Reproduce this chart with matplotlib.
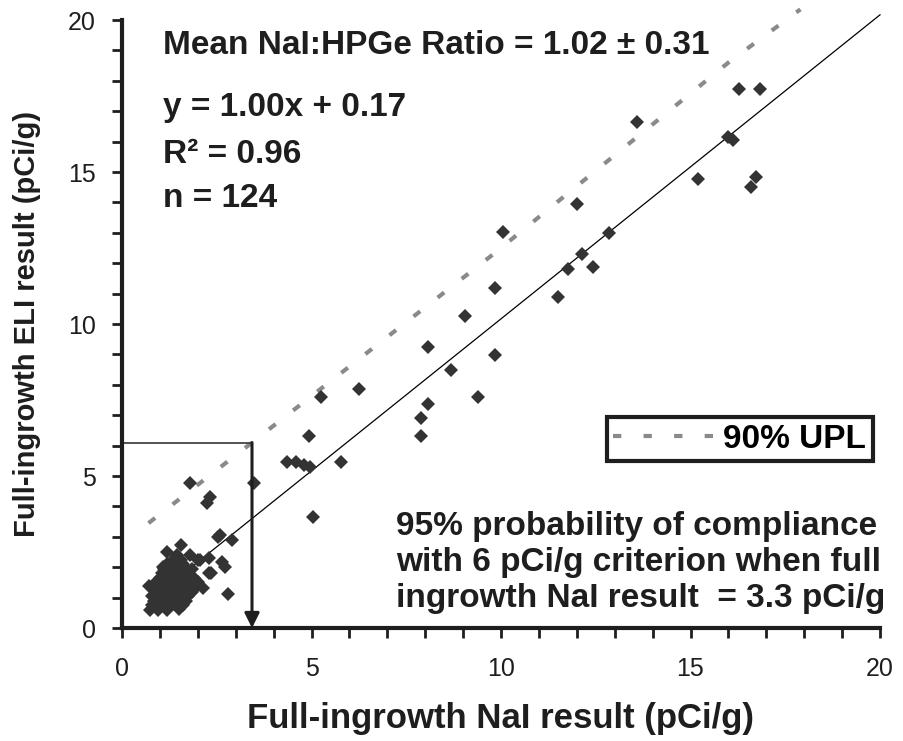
import numpy as np
import matplotlib
matplotlib.use("Agg")
import matplotlib.pyplot as plt
from matplotlib.ticker import MultipleLocator

plt.rcParams['font.family'] = ['Liberation Sans', 'DejaVu Sans']
plt.rcParams['lines.scale_dashes'] = False

# scattered results, NaI (x) vs ELI (y), pCi/g
nai_outer = [4.35, 4.6, 4.8, 4.95, 5.05, 4.94, 5.24, 5.79, 6.26, 7.9, 7.9, 8.08, 8.08,
             8.67, 9.05, 9.4, 9.84, 9.84, 10.06, 11.51, 11.78, 12.13, 12.42, 12.0, 12.85,
             13.58, 15.2, 16.0, 16.13, 16.29, 16.83, 16.6, 16.73,
             3.48, 1.79, 2.32, 2.23, 2.59, 2.54, 2.89, 2.8]
eli_outer = [5.45, 5.45, 5.35, 5.3, 3.66, 6.3, 7.61, 5.45, 7.87, 6.92, 6.3, 7.37, 9.25,
             8.49, 10.27, 7.59, 8.98, 11.2, 13.04, 10.9, 11.81, 12.29, 11.87, 13.95, 13.0,
             16.63, 14.77, 16.14, 16.05, 17.73, 17.73, 14.5, 14.85,
             4.76, 4.78, 4.32, 4.1, 3.06, 3.0, 2.89, 1.11]

# dense cluster near the origin
nai_cluster = [0.75, 0.95, 1.2, 1.5,
               0.8, 1.05, 1.3, 1.45, 1.6,
               0.85, 1.0, 1.15, 1.35, 1.55, 1.7,
               0.8, 1.0, 1.2, 1.4, 1.6, 1.75,
               0.9, 1.05, 1.25, 1.45, 1.65, 1.85,
               0.7, 0.95, 1.1, 1.3, 1.5, 1.7, 1.95, 2.15,
               0.9, 1.1, 1.25, 1.4, 1.6, 1.8, 2.0,
               1.0, 1.2, 1.35, 1.55, 1.75, 1.9,
               1.05, 1.25, 1.45, 1.65, 2.3,
               1.1, 1.3, 1.5, 1.7, 1.85, 2.72,
               1.2, 1.4, 1.6, 2.0,
               1.35, 1.55, 2.05, 2.3, 2.65,
               1.45, 1.8, 1.18, 1.55, 1.09, 1.35, 2.36]
eli_cluster = [0.6, 0.6, 0.6, 0.62,
               0.75, 0.75, 0.75, 0.75, 0.75,
               0.9, 0.9, 0.9, 0.9, 0.9, 0.9,
               1.05, 1.05, 1.05, 1.05, 1.05, 1.05,
               1.2, 1.2, 1.2, 1.2, 1.2, 1.2,
               1.38, 1.35, 1.35, 1.35, 1.35, 1.35, 1.35, 1.31,
               1.5, 1.5, 1.5, 1.5, 1.5, 1.5, 1.5,
               1.65, 1.65, 1.65, 1.65, 1.65, 1.65,
               1.8, 1.8, 1.8, 1.8, 1.8,
               1.95, 1.95, 1.95, 1.95, 1.95, 2.02,
               2.1, 2.1, 2.1, 2.24,
               2.25, 2.25, 2.25, 2.29, 2.18,
               2.4, 2.4, 2.51, 2.73, 2.02, 2.18, 1.8]

fit_slope, fit_intercept = 1.00, 0.17
fit_x = [0.7, 20.0]

upl_x = [0.7, 3.43, 9.8, 16.0, 17.9]
upl_y = [3.45, 6.1, 12.3, 18.6, 20.35]

crit_x, crit_y = 3.43, 6.1

stats_lines = ["Mean NaI:HPGe Ratio = 1.02 \u00b1 0.31", "y = 1.00x + 0.17",
               "R\u00b2 = 0.96", "n = 124"]
note_lines = ["95% probability of compliance", "with 6 pCi/g criterion when full",
              "ingrowth NaI result  = 3.3 pCi/g"]

W, H = 904, 741
fig = plt.figure(figsize=(W / 100, H / 100), dpi=100)
ax = fig.add_axes([122 / W, 1 - 628 / H, 758 / W, 608 / H])

dark = '#1e1e1e'
ax.plot(nai_cluster, eli_cluster, 'D', ms=7, mew=0, color='#333333', clip_on=False, zorder=3)
ax.plot(nai_outer, eli_outer, 'D', ms=7, mew=0, color='#333333', clip_on=False, zorder=3)

fx = np.array(fit_x)
ax.plot(fx, fit_slope * fx + fit_intercept, color='black', lw=0.9, clip_on=False, zorder=2)
ax.plot(upl_x, upl_y, color='#8a8a8a', lw=3, linestyle=(0, (6, 16)),
        clip_on=False, zorder=2, label='90% UPL')

ax.plot([0, crit_x], [crit_y, crit_y], color='#444444', lw=1.3, zorder=2)
ax.annotate('', xy=(crit_x, 0), xytext=(crit_x, crit_y),
            arrowprops=dict(arrowstyle='-|>', lw=2.2, color=dark, mutation_scale=22,
                            shrinkA=0, shrinkB=0), zorder=4)

ax.set_xlim(0, 20)
ax.set_ylim(0, 20)
ax.xaxis.set_major_locator(MultipleLocator(5))
ax.yaxis.set_major_locator(MultipleLocator(5))
ax.xaxis.set_minor_locator(MultipleLocator(1))
ax.yaxis.set_minor_locator(MultipleLocator(1))
for s in ['top', 'right']:
    ax.spines[s].set_visible(False)
for s in ['left', 'bottom']:
    ax.spines[s].set_linewidth(3)
    ax.spines[s].set_color(dark)
ax.tick_params(which='both', direction='out', length=7, width=2, color=dark)
ax.tick_params(which='major', labelsize=18, labelcolor=dark, pad=12)
ax.tick_params(axis='x', which='major', pad=14)

ax.set_xlabel("Full-ingrowth NaI result (pCi/g)", fontsize=25, fontweight='bold', color=dark)
ax.set_ylabel("Full-ingrowth ELI result (pCi/g)", fontsize=21, fontweight='bold', color=dark)
ax.xaxis.set_label_coords(0.5, -0.122)
ax.yaxis.set_label_coords(-0.107, 0.5)

for txt, base in zip(stats_lines, [54, 116, 163, 207]):
    fig.text(163 / W, 1 - base / H, txt, fontsize=24, fontweight='bold', color=dark,
             va='baseline', ha='left')
for txt, base in zip(note_lines, [535, 571, 607]):
    fig.text(396 / W, 1 - base / H, txt, fontsize=24, fontweight='bold', color=dark,
             va='baseline', ha='left')

leg = ax.legend(loc='upper right', bbox_to_anchor=(873 / W, 1 - 417 / H),
                bbox_transform=fig.transFigure, borderaxespad=0, fancybox=False,
                prop={'size': 24, 'weight': 'bold'}, handlelength=3.0,
                handletextpad=0.3, borderpad=0.2, framealpha=1)
leg.get_frame().set_edgecolor(dark)
leg.get_frame().set_linewidth(3)

fig.savefig("out.png", dpi=100)
